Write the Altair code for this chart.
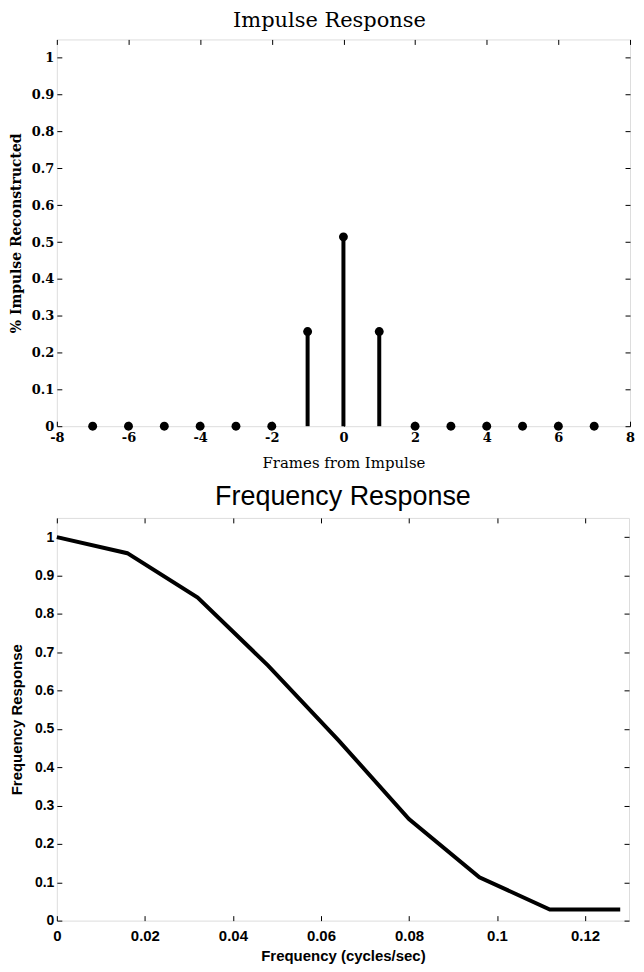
import altair as alt
import pandas as pd

# ---- data ----
frames = [-7, -6, -5, -4, -3, -2, -1, 0, 1, 2, 3, 4, 5, 6, 7]
impulse = [0, 0, 0, 0, 0, 0, 0.257, 0.514, 0.257, 0, 0, 0, 0, 0, 0]
x1_ticks = [-8, -6, -4, -2, 0, 2, 4, 6, 8]
y_ticks = [0, 0.1, 0.2, 0.3, 0.4, 0.5, 0.6, 0.7, 0.8, 0.9, 1]

freq = [0, 0.016, 0.032, 0.048, 0.064, 0.08, 0.096, 0.112, 0.128]
resp = [1.0, 0.958, 0.842, 0.665, 0.47, 0.265, 0.113, 0.029, 0.029]
x2_ticks = [0, 0.02, 0.04, 0.06, 0.08, 0.1, 0.12]

SERIF = "DejaVu Serif"
SANS = "Liberation Sans"

df1 = pd.DataFrame({"frame": frames, "value": impulse})
df2 = pd.DataFrame({"freq": freq, "resp": resp})


def ax(orient, values, font, size, title=None, labels=True, title_size=14,
       title_weight="bold", title_pad=6, label_pad=3):
    kw = dict(
        orient=orient, values=values, offset=-5, tickSize=5, tickWidth=1,
        tickColor="black", domain=False, grid=False, labels=labels,
        labelFlush=False, labelOverlap=False, labelPadding=label_pad,
        labelColor="black", labelFont=font, labelFontSize=size,
        labelFontWeight="bold", labelExpr="'' + datum.value",
    )
    if title:
        kw.update(title=title, titleFont=font, titleFontSize=title_size,
                  titleFontWeight=title_weight, titleColor="black",
                  titlePadding=title_pad)
    else:
        kw.update(title=None)
    return alt.Axis(**kw)


# ---------------- top panel ----------------
X1 = alt.Scale(domain=[-8, 8], nice=False)
Y1 = alt.Scale(domain=[0, 1.05], nice=False, zero=False)

stems = alt.Chart(df1).mark_rule(color="black", strokeWidth=4).encode(
    x=alt.X("frame:Q", scale=X1,
            axis=ax("bottom", x1_ticks, SERIF, 13, "Frames from Impulse",
                    title_size=15, title_weight="normal", title_pad=11,
                    label_pad=5)),
    y=alt.Y("value:Q", scale=Y1,
            axis=ax("left", y_ticks, SERIF, 13, "% Impulse Reconstructed",
                    title_size=14, title_weight="bold", title_pad=8)),
    y2=alt.datum(0),
)
dots = alt.Chart(df1).mark_circle(color="black", size=80, opacity=1).encode(
    x=alt.X("frame:Q", scale=X1, axis=None),
    y=alt.Y("value:Q", scale=Y1, axis=None),
)
mirror1 = alt.Chart(df1).mark_point(opacity=0).encode(
    x=alt.X("frame:Q", scale=X1, axis=ax("top", x1_ticks, SERIF, 13, labels=False)),
    y=alt.Y("value:Q", scale=Y1, axis=ax("right", y_ticks, SERIF, 13, labels=False)),
)
top = alt.layer(stems, dots, mirror1).resolve_scale(
    x="independent", y="independent"
).resolve_axis(x="independent", y="independent").properties(
    width=575, height=388,
    title=alt.TitleParams("Impulse Response", font=SERIF, fontSize=21,
                          fontWeight="normal", color="black", anchor="middle",
                          offset=8, dx=-14),
)

# ---------------- bottom panel ----------------
X2 = alt.Scale(domain=[0, 0.13], nice=False)
Y2 = alt.Scale(domain=[0, 1.05], nice=False, zero=False)

line = alt.Chart(df2).mark_line(color="black", strokeWidth=4).encode(
    x=alt.X("freq:Q", scale=X2,
            axis=ax("bottom", x2_ticks, SANS, 15, "Frequency (cycles/sec)",
                    title_size=15, title_weight="bold", title_pad=5,
                    label_pad=8)),
    y=alt.Y("resp:Q", scale=Y2,
            axis=ax("left", y_ticks, SANS, 14, "Frequency Response",
                    title_size=15, title_weight="bold", title_pad=10)),
)
mirror2 = alt.Chart(df2).mark_point(opacity=0).encode(
    x=alt.X("freq:Q", scale=X2, axis=ax("top", x2_ticks, SANS, 14, labels=False)),
    y=alt.Y("resp:Q", scale=Y2, axis=ax("right", y_ticks, SANS, 14, labels=False)),
)
bottom = alt.layer(line, mirror2).resolve_scale(
    x="independent", y="independent"
).resolve_axis(x="independent", y="independent").properties(
    width=574, height=404,
    title=alt.TitleParams("Frequency Response", font=SANS, fontSize=27,
                          fontWeight="normal", color="black", anchor="middle",
                          offset=6),
)

chart = alt.vconcat(top, bottom, spacing=12).properties(
    padding={"left": 0, "top": 0, "right": 0, "bottom": 0}
).configure_view(stroke="black", strokeWidth=1.5).configure(background="white")

chart.save("out.html", embed_options={"renderer": "svg", "actions": False})
